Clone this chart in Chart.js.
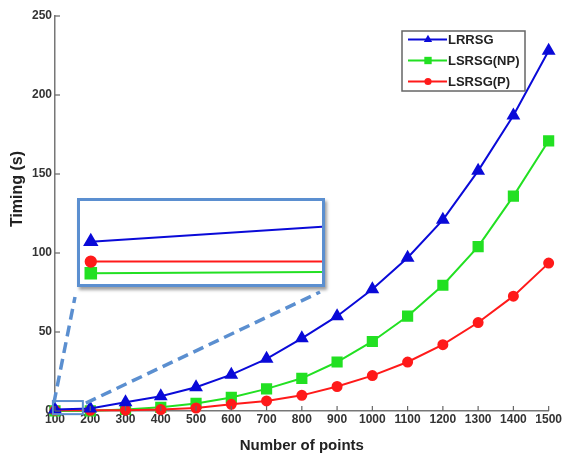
<!DOCTYPE html>
<html lang="en">
<head>
  <meta charset="UTF-8">
  <title>Timing vs number of points</title>
  <script src="https://cdn.jsdelivr.net/npm/chart.js"></script>
  <style>
    body { margin: 0; background: #fff; }
    #wrap { position: relative; width: 563px; height: 455px; }
    #inset {
      position: absolute; left: 77px; top: 198px;
      width: 242px; height: 83px;
      border: 3px solid #5b8fd0; background: #fff;
      box-shadow: 2px 3px 3px #a0a0a0;
    }
  </style>
</head>
<body>
<div id="wrap">
  <canvas id="mainChart" width="563" height="455"></canvas>
  <div id="inset"><canvas id="insetChart" width="242" height="83"></canvas></div>
</div>
<script>
  const points = [100, 200, 300, 400, 500, 600, 700, 800, 900, 1000, 1100, 1200, 1300, 1400, 1500];
  const lrrsg = [1.0, 1.6, 5.5, 9.4, 15, 23, 33, 46, 60, 77, 97, 121, 152, 187, 228];
  const lsrsgNP = [0.05, 0.1, 1.0, 2.3, 4.8, 8.6, 14, 20.7, 31, 44, 60, 79.6, 104, 136, 171];
  const lsrsgP = [0.4, 0.4, 0.5, 0.9, 1.9, 4.2, 6.4, 9.9, 15.5, 22.4, 31, 42, 56, 72.7, 93.6];
  const yTicks = [0, 50, 100, 150, 200, 250];
  const seriesNames = ['LRRSG', 'LSRSG(NP)', 'LSRSG(P)'];

  const BLUE = '#0a0ad8', GREEN = '#22e022', RED = '#ff1a1a', FRAME = '#5b8fd0';
  const tickFont = { family: 'Liberation Sans', size: 12, weight: 'bold' };

  function series(values) {
    return points.map((p, i) => ({ x: p, y: values[i] }));
  }
  function makeDatasets(big) {
    const k = big ? 1 : 1.15;
    return [
      { label: seriesNames[0], data: series(lrrsg), borderColor: BLUE, backgroundColor: BLUE,
        pointStyle: 'triangle', pointRadius: 6 * k, borderWidth: 2, clip: big ? false : undefined },
      { label: seriesNames[2], data: series(lsrsgP), borderColor: RED, backgroundColor: RED,
        pointStyle: 'circle', pointRadius: 4.5 * k, borderWidth: 2, clip: big ? false : undefined },
      { label: seriesNames[1], data: series(lsrsgNP), borderColor: GREEN, backgroundColor: GREEN,
        pointStyle: 'rect', pointRadius: 6.5 * k, borderWidth: 2, clip: big ? false : undefined }
    ];
  }

  // inward ticks, y title, zoom box, dashed guides and legend
  const overlay = {
    id: 'overlay',
    afterDraw(chart) {
      const { ctx, chartArea: a, scales: { x, y } } = chart;
      ctx.save();
      ctx.strokeStyle = '#666'; ctx.lineWidth = 1.2;
      points.forEach(v => {
        const px = x.getPixelForValue(v);
        ctx.beginPath(); ctx.moveTo(px, a.bottom); ctx.lineTo(px, a.bottom - 5); ctx.stroke();
      });
      yTicks.forEach(v => {
        const py = y.getPixelForValue(v);
        ctx.beginPath(); ctx.moveTo(a.left, py); ctx.lineTo(a.left + 5, py); ctx.stroke();
      });

      // y axis title
      ctx.save();
      ctx.translate(18, 189); ctx.rotate(-Math.PI / 2);
      ctx.font = 'bold 16px "Liberation Sans"'; ctx.fillStyle = '#222';
      ctx.textAlign = 'center'; ctx.textBaseline = 'middle';
      ctx.fillText('Timing (s)', 0, 0);
      ctx.restore();

      // small zoom box near the origin
      const bx0 = x.getPixelForValue(94), bx1 = x.getPixelForValue(179);
      const by0 = y.getPixelForValue(6.3), by1 = y.getPixelForValue(-2);
      ctx.strokeStyle = FRAME; ctx.lineWidth = 2;
      ctx.strokeRect(bx0, by0, bx1 - bx0, by1 - by0);

      // dashed guides to the inset
      const ins = document.getElementById('inset');
      const il = ins.offsetLeft, ir = ins.offsetLeft + ins.offsetWidth, ib = ins.offsetTop + ins.offsetHeight;
      ctx.setLineDash([11, 6]); ctx.lineWidth = 3.5;
      ctx.beginPath(); ctx.moveTo(bx0 + 1, by0 + 2); ctx.lineTo(il - 2, ib + 10); ctx.stroke();
      ctx.beginPath(); ctx.moveTo(bx1 + 3, by0 + 2); ctx.lineTo(ir - 5, ib + 5); ctx.stroke();
      ctx.setLineDash([]);

      // legend
      const lx = 402, ly = 31, lw = 123, lh = 60;
      ctx.fillStyle = '#fff'; ctx.fillRect(lx, ly, lw, lh);
      ctx.strokeStyle = '#666'; ctx.lineWidth = 1.5; ctx.strokeRect(lx, ly, lw, lh);
      const order = [0, 2, 1];
      ctx.font = 'bold 13px "Liberation Sans"'; ctx.textBaseline = 'middle';
      order.forEach((di, row) => {
        const ds = chart.data.datasets[di];
        const ry = ly + 8.5 + row * 21;
        ctx.strokeStyle = ds.borderColor; ctx.lineWidth = 2;
        ctx.beginPath(); ctx.moveTo(lx + 6, ry); ctx.lineTo(lx + 45, ry); ctx.stroke();
        ctx.fillStyle = ds.backgroundColor;
        Chart.helpers.drawPoint(ctx, { pointStyle: ds.pointStyle, radius: ds.pointRadius * 0.8, borderWidth: 0, rotation: 0 }, lx + 26, ry);
        ctx.fillStyle = '#222';
        ctx.fillText(ds.label, lx + 46, ry + 1);
      });
      ctx.restore();
    }
  };

  new Chart(document.getElementById('mainChart'), {
    type: 'line',
    data: { datasets: makeDatasets(true) },
    options: {
      responsive: false, animation: false,
      layout: { padding: { top: 16, right: 14, left: 0, bottom: 0 }, autoPadding: false },
      plugins: { legend: { display: false }, tooltip: { enabled: false } },
      scales: {
        x: {
          type: 'linear', min: 100, max: 1500,
          afterFit: s => { s.height = 44; },
          afterBuildTicks: s => { s.ticks = points.map(v => ({ value: v })); },
          border: { color: '#777', width: 1.5 },
          grid: { display: false, drawTicks: false, tickLength: 0 },
          ticks: { color: '#333', font: tickFont, padding: 1, maxRotation: 0, autoSkip: false,
                   callback: v => String(v) },
          title: { display: true, text: 'Number of points', color: '#222',
                   font: { family: 'Liberation Sans', size: 15, weight: 'bold' }, padding: { top: 9, bottom: 0 } }
        },
        y: {
          min: 0, max: 250,
          afterFit: s => { s.width = 55; },
          afterBuildTicks: s => { s.ticks = yTicks.map(v => ({ value: v })); },
          border: { color: '#777', width: 1.5 },
          grid: { display: false, drawTicks: false, tickLength: 0 },
          ticks: { color: '#333', font: tickFont, padding: 3, callback: v => String(v) }
        }
      }
    },
    plugins: [overlay]
  });

  new Chart(document.getElementById('insetChart'), {
    type: 'line',
    data: { datasets: makeDatasets(false) },
    options: {
      responsive: false, animation: false,
      layout: { padding: 0, autoPadding: false },
      plugins: { legend: { display: false }, tooltip: { enabled: false } },
      scales: {
        x: { type: 'linear', min: 96.5, max: 175, display: false },
        y: { min: -0.275, max: 2.225, display: false }
      },
      elements: { line: { borderWidth: 2.5 } }
    }
  });
</script>
</body>
</html>
